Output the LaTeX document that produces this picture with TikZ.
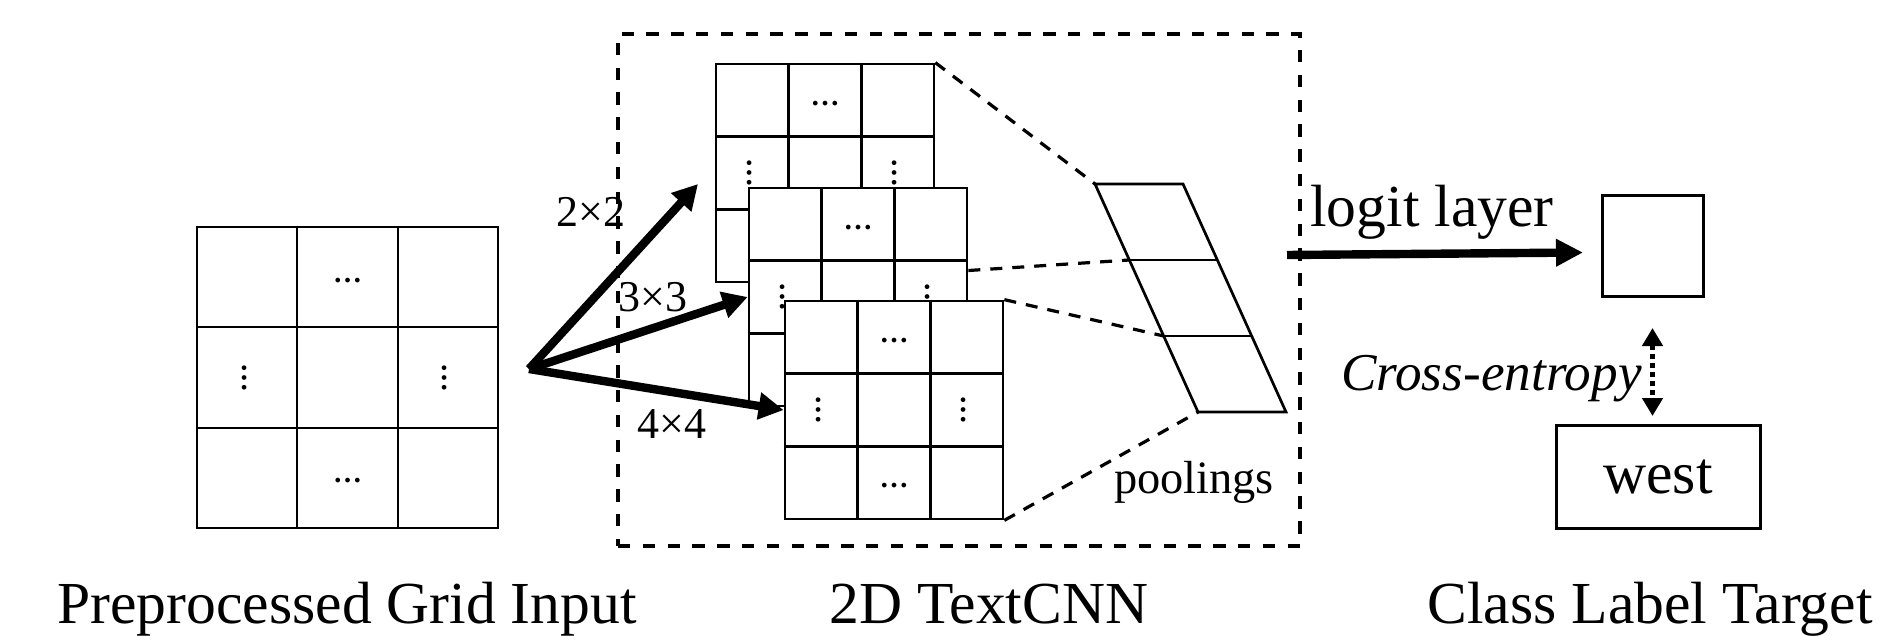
\documentclass[tikz,border=0pt]{standalone}
\usepackage{fontspec}
\setmainfont{Liberation Serif}
\usetikzlibrary{calc,arrows.meta}
\tikzset{
  gridbox/.style={draw, line width=1.35pt, fill=white, inner sep=0pt, minimum size=#1},
  gridline/.style={line width=1.35pt, line join=miter},
  dotsh/.style={inner sep=0pt, font=\fontsize{14.5}{15}\selectfont\bfseries},
  dotsv/.style={dotsh, rotate=90},
  dashbox/.style={draw, line width=2pt, dash pattern=on 6.2pt off 6.2pt, inner sep=0pt},
  dashcon/.style={line width=1.6pt, dash pattern=on 6pt off 5pt},
  bigarrow/.style={line width=4.2pt, -{Triangle[length=12.5pt,width=13pt]}},
  logitarrow/.style={line width=4.2pt, -{Triangle[length=13.5pt,width=13pt]}},
  cearrow/.style={line width=2.7pt, dash pattern=on 2.5pt off 2pt, {Triangle[length=9pt,width=10pt]}-{Triangle[length=9pt,width=10pt]}},
  biglbl/.style={inner sep=0pt, font=\fontsize{29.8}{34}\selectfont},
  midlbl/.style={inner sep=0pt, font=\fontsize{22}{26}\selectfont},
  poollbl/.style={inner sep=0pt, font=\fontsize{23.2}{27}\selectfont},
  celbl/.style={inner sep=0pt, font=\fontsize{26.6}{30}\selectfont\itshape},
  outbox/.style={draw, line width=1.5pt, inner sep=0pt},
}
\newcommand{\gridmap}[4]{%
  \node[gridbox=#4pt] (#1) at (#2,#3) {};
  \draw[gridline] ($(#1.north west)!1/3!(#1.north east)$) -- ($(#1.south west)!1/3!(#1.south east)$);
  \draw[gridline] ($(#1.north west)!2/3!(#1.north east)$) -- ($(#1.south west)!2/3!(#1.south east)$);
  \draw[gridline] ($(#1.north west)!1/3!(#1.south west)$) -- ($(#1.north east)!1/3!(#1.south east)$);
  \draw[gridline] ($(#1.north west)!2/3!(#1.south west)$) -- ($(#1.north east)!2/3!(#1.south east)$);
  \node[dotsh] (#1-t) at ($(#1.center)+(0,{-2*#4/3+3})$) {…};
  \node[dotsh] (#1-b) at ($(#1.center)+(0,{2*#4/3+3})$) {…};
  \node[dotsv] (#1-l) at ($(#1.center)+({-2*#4/3-3},0)$) {…};
  \node[dotsv] (#1-r) at ($(#1.center)+({2*#4/3-3},0)$) {…};
}
\begin{document}
\begin{tikzpicture}[x=0.5pt,y=-0.5pt]
\useasboundingbox (0,0) rectangle (1882,636);
% input grid
\gridmap{inp}{347.5}{377.5}{150.5}
% dashed TextCNN box
\node[dashbox, minimum width=341pt, minimum height=256pt] (tcnn) at (959,290) {};
% feature maps
\gridmap{ma}{825}{173}{109}
\gridmap{mb}{858}{297}{109}
\gridmap{mc}{894}{410}{109}
% pooling parallelogram
\coordinate (pa) at (1095,184);
\coordinate (pb) at (1183,184);
\coordinate (pc) at (1286,412);
\coordinate (pd) at (1198,412);
\coordinate (qa) at ($(pa)!1/3!(pd)$);
\coordinate (qb) at ($(pb)!1/3!(pc)$);
\coordinate (qc) at ($(pa)!2/3!(pd)$);
\coordinate (qd) at ($(pb)!2/3!(pc)$);
\draw[gridline] (pa) -- (pb) -- (pc) -- (pd) -- cycle;
\draw[gridline] (qa) -- (qb);
\draw[gridline] (qc) -- (qd);
% dashed connectors
\coordinate (mbe) at ($(mb.north east)!0.38!(mb.south east)$);
\draw[dashcon] (ma.north east) -- (pa);
\draw[dashcon] (mbe) -- (qa);
\draw[dashcon] (mc.north east) -- (qc);
\draw[dashcon] (mc.south east) -- (pd);
\node[poollbl, anchor=base] (pool) at (1194,493) {poolings};
% arrows from input
\coordinate (src) at (529,369);
\coordinate (ta) at (698,184);
\draw[bigarrow] (src) -- (ta);
\draw[bigarrow] (src) -- (mb.west);
\draw[bigarrow] (src) -- (mc.west);
\node[midlbl, anchor=base] (k2) at (591,227) {2×2};
\node[midlbl, anchor=base] (k3) at (653,311) {3×3};
\node[midlbl, anchor=base] (k4) at (672,438) {4×4};
% logit
\coordinate (ls) at (1287,255);
\coordinate (le) at (1583,252.5);
\draw[logitarrow] (ls) -- (le);
\node[biglbl, anchor=base] (logit) at (1432,227) {logit layer};
\node[outbox, minimum size=50.5pt] (out) at (1652.5,246) {};
\node[outbox, minimum width=102pt, minimum height=51.5pt, font=\fontsize{29.8}{34}\selectfont] (west) at (1658,477) {west};
\draw[cearrow, shorten <=15pt, shorten >=4pt] (out.south) -- (out.south |- west.north);
\node[celbl, anchor=base east] (ce) at (1642,390) {Cross-entropy};
% bottom labels
\node[biglbl, anchor=base] (l1) at (347,623) {Preprocessed Grid Input};
\node[biglbl, anchor=base] (l2) at (989,623) {2D TextCNN};
\node[biglbl, anchor=base] (l3) at (1650,623) {Class Label Target};
\end{tikzpicture}
\end{document}
